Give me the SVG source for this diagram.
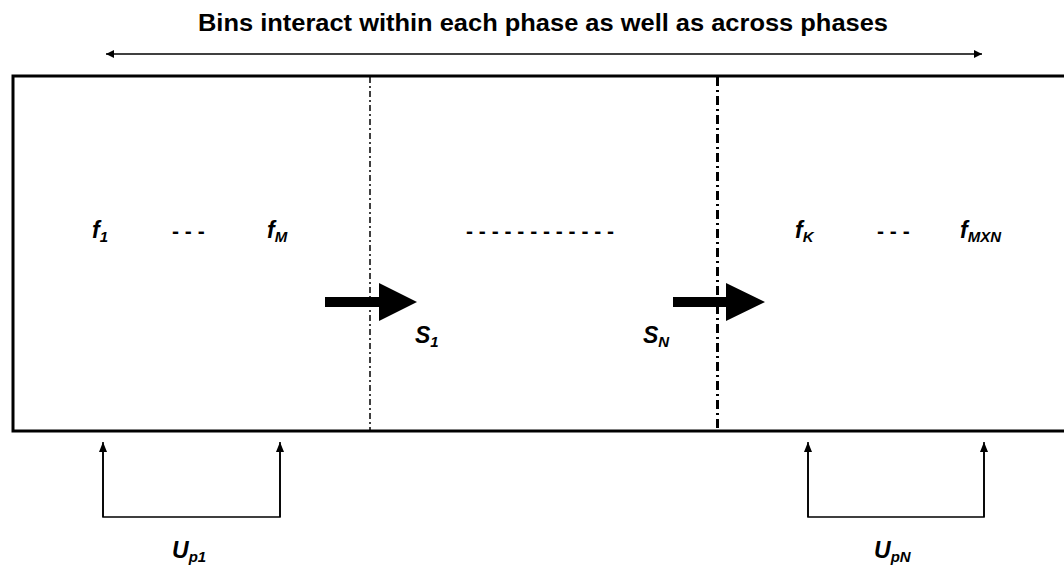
<svg xmlns="http://www.w3.org/2000/svg" width="1064" height="569" viewBox="0 0 1064 569">
<defs>
<style>
.lbl{font-family:"Liberation Sans",Arial,sans-serif;font-weight:bold;font-style:italic;font-size:23px;fill:#000}
.sub{font-size:15px}
.title{font-family:"Liberation Sans",Arial,sans-serif;font-weight:bold;font-size:23px;fill:#000}
.dash{font-family:"Liberation Sans",Arial,sans-serif;font-weight:bold;font-size:21px;fill:#000}
.thin{stroke:#000;stroke-width:1.6;fill:none}
</style>
<marker id="ah" viewBox="0 0 10 10" refX="10" refY="5" markerWidth="8" markerHeight="8" markerUnits="userSpaceOnUse" orient="auto-start-reverse">
<path d="M0,0 L10,5 L0,10 z" fill="#000"/>
</marker>
<marker id="ahs" viewBox="0 0 10 10" refX="10" refY="5" markerWidth="10" markerHeight="10" markerUnits="userSpaceOnUse" orient="auto">
<path d="M0,1 L10,5 L0,9 z" fill="#000"/>
</marker>
</defs>
<rect width="1064" height="569" fill="#fff"/>
<g id="title">
<text class="title" x="543" y="31" text-anchor="middle" textLength="690" lengthAdjust="spacingAndGlyphs">Bins interact within each phase as well as across phases</text>
</g>
<g id="system">
<rect x="13" y="76" width="1060" height="355" fill="none" stroke="#000" stroke-width="3"/>
<line x1="370" y1="77" x2="370" y2="430" stroke="#000" stroke-width="1.5" stroke-dasharray="6,3,2,3"/>
<line x1="717.5" y1="77" x2="717.5" y2="430" stroke="#000" stroke-width="3" stroke-dasharray="9,4,2,4"/>
</g>
<g id="phase1">
<text class="lbl" x="92" y="238">f<tspan class="sub" dy="4">1</tspan></text>
<text class="dash" x="172" y="238">- - -</text>
<text class="lbl" x="267" y="238">f<tspan class="sub" dy="4">M</tspan></text>
</g>
<g id="middle">
<text class="dash" x="466" y="238">- - - - - - - - - - - -</text>
</g>
<g id="phaseN">
<text class="lbl" x="795" y="238">f<tspan class="sub" dy="4">K</tspan></text>
<text class="dash" x="877" y="238">- - -</text>
<text class="lbl" x="960" y="238">f<tspan class="sub" dy="4">MXN</tspan></text>
</g>
<g id="s1">
<polygon points="325,297 379,297 379,283 417,302 379,321 379,307 325,307" fill="#000"/>
<text class="lbl" x="415" y="343">S<tspan class="sub" dy="4">1</tspan></text>
</g>
<g id="sN">
<polygon points="673,297 726,297 726,283 765,302 726,321 726,307 673,307" fill="#000"/>
<text class="lbl" x="643" y="343">S<tspan class="sub" dy="4">N</tspan></text>
</g>
<g id="up1">
<text class="lbl" x="172" y="558">U<tspan class="sub" dy="4">p1</tspan></text>
</g>
<g id="upN">
<text class="lbl" x="874" y="558">U<tspan class="sub" dy="4">pN</tspan></text>
</g>
<g id="connectors">
<line class="thin" x1="106" y1="54" x2="982" y2="54" marker-start="url(#ah)" marker-end="url(#ah)"/>
<path class="thin" d="M103,446 V517 H280 V446"/>
<line class="thin" x1="103" y1="517" x2="103" y2="442" marker-end="url(#ahs)"/>
<line class="thin" x1="280" y1="517" x2="280" y2="442" marker-end="url(#ahs)"/>
<path class="thin" d="M808,446 V517 H984 V446"/>
<line class="thin" x1="808" y1="517" x2="808" y2="442" marker-end="url(#ahs)"/>
<line class="thin" x1="984" y1="517" x2="984" y2="442" marker-end="url(#ahs)"/>
</g>
</svg>
